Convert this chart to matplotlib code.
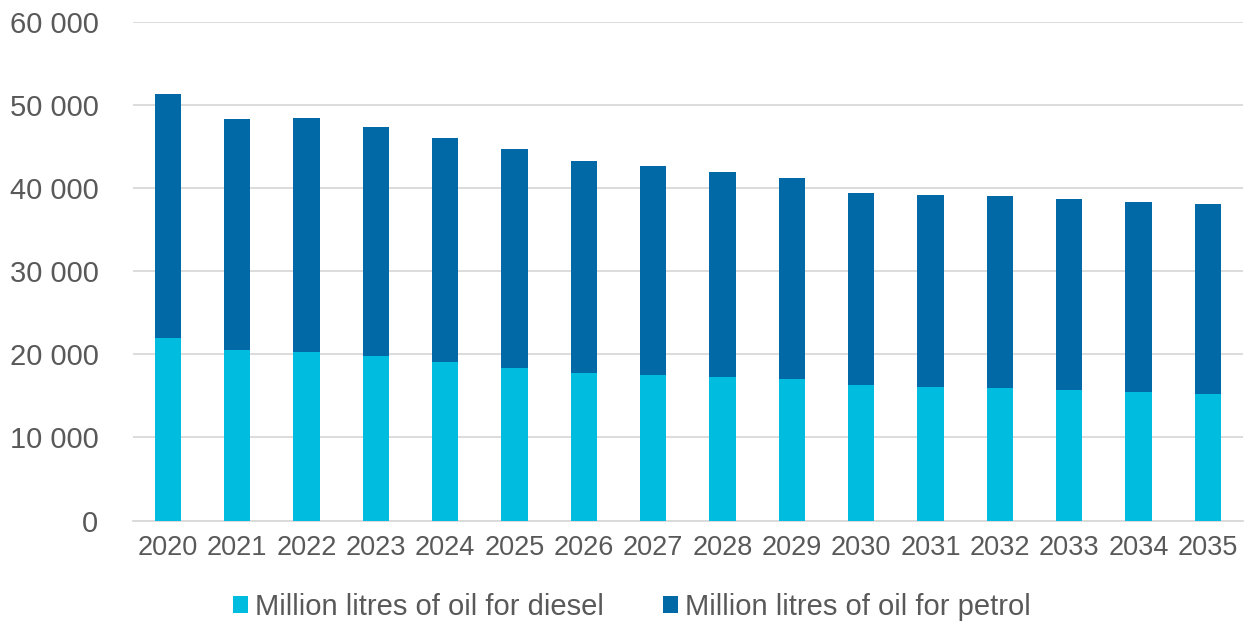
import numpy as np
import matplotlib.pyplot as plt
from matplotlib.ticker import FuncFormatter

years = [str(y) for y in range(2020, 2036)]
total = [51350, 48250, 48480, 47340, 46000, 44730, 43280, 42640,
         41990, 41230, 39460, 39180, 39000, 38650, 38290, 38040]
diesel = [21940, 20500, 20290, 19770, 19050, 18320, 17760, 17470,
          17300, 17070, 16270, 16030, 15900, 15660, 15420, 15260]
petrol = [t - d for t, d in zip(total, diesel)]

plt.rcParams['font.family'] = ['Liberation Sans', 'DejaVu Sans']
grey = '#595959'

fig = plt.figure(figsize=(12.45, 6.22), dpi=100)
ax = fig.add_axes([0.107, 0.163, 0.891, 0.802])

x = np.arange(len(years))
ax.bar(x, diesel, width=0.38, color='#00BDE0', label='Million litres of oil for diesel', zorder=3)
ax.bar(x, petrol, width=0.38, bottom=diesel, color='#0069A6',
       label='Million litres of oil for petrol', zorder=3)

ax.set_xlim(-0.5, len(years) - 0.5)
ax.set_ylim(0, 60000)
ax.set_yticks(range(0, 60001, 10000))
ax.yaxis.set_major_formatter(FuncFormatter(lambda v, p: '{:,.0f}'.format(v).replace(',', ' ')))
ax.set_xticks(x)
ax.set_xticklabels(years)
ax.tick_params(axis='both', length=0, colors=grey)
ax.tick_params(axis='x', pad=10, labelsize=19.5)
ax.tick_params(axis='y', pad=25, labelsize=21)
ax.grid(axis='y', color='#d9d9d9', linewidth=1.3, zorder=0)
for s in ['top', 'right', 'left']:
    ax.spines[s].set_visible(False)
ax.spines['bottom'].set_color('#d9d9d9')
ax.spines['bottom'].set_linewidth(1.3)

fig.legend(loc='center', bbox_to_anchor=(0.5076, 0.024), ncol=2, frameon=False,
           fontsize=21, labelcolor=grey, handlelength=0.52, handleheight=0.52,
           handletextpad=0.24, columnspacing=2.0, borderpad=0)

fig.savefig('out.png', dpi=100)
